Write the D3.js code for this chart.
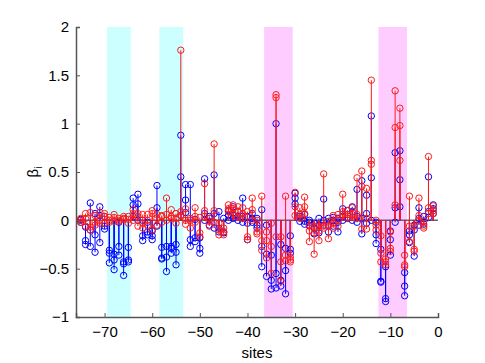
<!DOCTYPE html>
<html>
<head>
<meta charset="utf-8">
<script src="https://cdn.jsdelivr.net/npm/d3@7"></script>
<style>
  body { margin: 0; background: #fff; }
  text { font-family: "Liberation Sans", Arial, sans-serif; }
</style>
</head>
<body>
<div id="chart"></div>
<script>
// sites along the sequence
const sites = [-75, -74, -73, -72, -71, -70, -69, -68, -67, -66, -65, -64, -63, -62, -61,
  -60, -59, -58, -57, -56, -55, -54, -53, -52, -51, -50, -49, -48, -47, -46,
  -45, -44, -43, -42, -41, -40, -39, -38, -37, -36, -35, -34, -33, -32, -31,
  -30, -29, -28, -27, -26, -25, -24, -23, -22, -21, -20, -19, -18, -17, -16,
  -15, -14, -13, -12, -11, -10, -9, -8, -7, -6, -5, -4, -3, -2, -1];

// blue series (three runs)
const blueA = [0.01, -0.21, 0.18, 0.07, 0.14, 0.04, -0.31, -0.35, -0.27, -0.43, -0.28, 0.23, 0.27, -0.21, -0.12,
  -0.11, 0.36, -0.28, -0.27, -0.27, -0.25, 0.88, 0.37, 0.37, -0.18, -0.18, 0.43, 0.04, 0.47, 0.09,
  -0.12, 0.10, 0.14, 0.09, 0.23, -0.03, 0.02, -0.05, 0.11, -0.05, -0.36, 1.00, -0.25, -0.29, -0.16,
  0.28, 0.06, 0.06, -0.02, -0.03, 0.02, 0.22, 0.02, 0.00, -0.12, 0.12, 0.10, 0.14, 0.32, 0.41,
  0.26, 1.08, -0.15, -0.30, -0.48, -0.11, 0.70, 0.72, -0.54, -0.11, -0.05, 0.13, 0.04, 0.45, 0.16];
const blueB = [-0.02, -0.25, -0.27, -0.15, -0.23, -0.06, -0.34, -0.41, -0.36, -0.45, -0.41, 0.16, 0.17, -0.16, -0.15,
  -0.16, 0.13, -0.39, -0.38, -0.29, -0.33, 0.45, 0.21, -0.27, -0.22, -0.29, 0.07, 0.02, 0.07, -0.08,
  -0.13, 0.00, 0.05, 0.04, 0.04, -0.20, -0.02, 0.02, -0.27, -0.35, -0.62, -0.55, -0.62, -0.52, -0.34,
  0.23, 0.04, -0.01, -0.05, -0.08, -0.13, 0.00, -0.12, -0.06, 0.02, 0.04, 0.06, 0.09, 0.04, 0.02,
  0.07, 0.44, -0.24, -0.63, -0.81, -0.20, 0.13, 0.42, -0.68, -0.15, -0.10, -0.05, -0.01, 0.09, 0.12];
const blueC = [0.00, -0.07, -0.10, -0.33, 0.05, -0.09, -0.44, -0.51, -0.02, -0.57, -0.43, 0.04, 0.00, 0.00, -0.02,
  -0.20, -0.06, -0.40, -0.53, -0.34, -0.46, 0.05, 0.08, -0.20, 0.01, -0.34, 0.00, -0.05, -0.08, -0.12,
  0.02, 0.05, 0.02, 0.00, -0.02, 0.04, 0.07, -0.08, -0.48, -0.58, -0.71, -0.70, -0.68, -0.76, -0.30,
  0.17, -0.01, -0.04, 0.00, -0.14, -0.05, -0.05, -0.05, 0.03, -0.02, 0.00, 0.02, 0.00, -0.02, -0.14,
  -0.03, 0.00, -0.02, -0.64, -0.84, -0.36, -0.02, 0.14, -0.78, -0.23, -0.37, 0.02, -0.04, 0.03, 0.07];

// red series (three runs)
const redA = [0.00, 0.07, 0.08, 0.05, 0.08, 0.07, 0.00, 0.06, 0.00, 0.04, 0.04, 0.11, 0.07, 0.06, 0.06,
  0.10, 0.06, 0.05, 0.23, 0.11, 0.07, 1.76, 0.12, 0.02, 0.13, -0.13, 0.38, -0.01, 0.79, -0.03,
  -0.12, 0.16, 0.16, 0.14, 0.13, 0.09, 0.23, -0.12, 0.25, -0.12, -0.03, 1.30, -0.17, 0.25, -0.38,
  0.29, 0.13, 0.24, -0.06, -0.06, -0.06, 0.48, -0.01, -0.03, 0.06, 0.27, 0.10, 0.13, 0.44, 0.51,
  0.33, 1.45, -0.05, -0.16, -0.43, -0.12, 1.34, 1.16, -0.36, 0.25, -0.06, 0.23, -0.01, 0.66, 0.15];
const redB = [-0.02, 0.02, -0.07, -0.05, 0.00, 0.04, -0.02, -0.01, 0.02, 0.01, 0.01, 0.07, 0.04, -0.03, 0.00,
  0.07, -0.05, 0.04, 0.06, 0.04, 0.02, 0.09, 0.00, -0.08, 0.04, -0.17, 0.10, -0.06, 0.10, -0.10,
  -0.15, 0.12, 0.12, 0.09, 0.07, -0.17, 0.11, -0.14, -0.21, -0.21, -0.27, 1.27, -0.43, -0.36, -0.41,
  0.14, 0.06, 0.14, -0.11, -0.13, -0.11, -0.06, -0.06, -0.08, 0.00, 0.09, 0.06, 0.06, 0.06, 0.35,
  -0.09, 0.62, -0.10, -0.34, -0.46, -0.29, 0.96, 0.98, -0.46, -0.06, -0.30, 0.05, -0.06, 0.13, 0.10];
const redC = [0.02, -0.06, -0.10, -0.02, -0.03, -0.03, 0.03, 0.03, -0.01, 0.02, -0.03, 0.00, -0.06, -0.08, -0.05,
  -0.10, 0.02, -0.02, 0.00, 0.02, -0.03, 0.05, -0.04, 0.00, -0.02, 0.03, 0.04, 0.02, -0.02, -0.15,
  -0.08, 0.09, 0.07, 0.03, 0.02, -0.20, 0.00, 0.00, -0.31, -0.39, -0.55, -0.17, -0.63, -0.42, -0.43,
  0.05, 0.02, 0.07, -0.22, -0.35, -0.21, -0.08, -0.19, 0.05, -0.06, 0.06, 0.02, 0.03, 0.02, -0.09,
  0.02, 0.58, 0.00, -0.43, -0.40, -0.32, 0.16, 0.62, -0.48, -0.22, -0.32, 0.00, -0.08, 0.07, 0.07];

// highlighted windows
const cyanBands = [[-69.5, -64.5], [-58.5, -53.5]];
const pinkBands = [[-36.5, -30.5], [-12.5, -6.5]];

const xTicks = [-70, -60, -50, -40, -30, -20, -10, 0];
const yTicks = [-1, -0.5, 0, 0.5, 1, 1.5, 2];

const width = 485;
const height = 363;

const svg = d3.select("#chart")
  .append("svg")
  .attr("width", width)
  .attr("height", height);

const x = d3.scaleLinear()
  .domain([-76, 0])
  .range([76, 438]);

const y = d3.scaleLinear()
  .domain([-1, 2])
  .range([317, 27]);

// shaded bands
function drawBands(bands, colour) {
  svg.selectAll(null)
    .data(bands)
    .enter()
    .append("rect")
    .attr("x", d => x(d[0]))
    .attr("width", d => x(d[1]) - x(d[0]))
    .attr("y", y(2))
    .attr("height", y(-1) - y(2))
    .style("fill", colour);
}
drawBands(cyanBands, "#ccffff");
drawBands(pinkBands, "#ffccff");

// baseline
svg.append("line")
  .attr("x1", x(-76))
  .attr("x2", x(0))
  .attr("y1", y(0))
  .attr("y2", y(0))
  .style("stroke", "#666")
  .style("stroke-width", 1.5);

// stems
function drawStems(values, colour) {
  const pts = sites.map((s, i) => ({ site: s, value: values[i] }));
  const g = svg.append("g");
  g.selectAll("line")
    .data(pts)
    .enter()
    .append("line")
    .attr("x1", d => x(d.site))
    .attr("x2", d => x(d.site))
    .attr("y1", y(0))
    .attr("y2", d => y(d.value))
    .style("stroke", colour)
    .style("stroke-width", 1);
  g.selectAll("circle")
    .data(pts)
    .enter()
    .append("circle")
    .attr("cx", d => x(d.site))
    .attr("cy", d => y(d.value))
    .attr("r", 3.2)
    .style("fill", "none")
    .style("stroke", colour)
    .style("stroke-width", 1);
}
[blueA, blueB, blueC].forEach(v => drawStems(v, "#0000ff"));
[redA, redB, redC].forEach(v => drawStems(v, "#ff1a1a"));

// axes (ticks inside, MATLAB style)
const fmt = d => (d < 0 ? "\u2212" + Math.abs(d) : String(d));

const xAxis = svg.append("g")
  .attr("transform", `translate(0, ${y(-1)})`)
  .call(d3.axisBottom(x).tickValues(xTicks).tickSize(-4).tickPadding(9).tickFormat(fmt));

const yAxis = svg.append("g")
  .attr("transform", `translate(${x(-76)}, 0)`)
  .call(d3.axisLeft(y).tickValues(yTicks).tickSize(-4).tickPadding(7).tickFormat(fmt));

[xAxis, yAxis].forEach(a => {
  a.select(".domain").style("stroke", "#555").style("stroke-width", 1.5);
  a.selectAll(".tick line").style("stroke", "#555");
  a.selectAll("text")
    .style("font-family", "Liberation Sans, Arial, sans-serif")
    .style("font-size", "15px")
    .style("fill", "#000");
});

// labels
svg.append("text")
  .attr("x", (x(-76) + x(0)) / 2)
  .attr("y", 358)
  .attr("text-anchor", "middle")
  .style("font-size", "15px")
  .text("sites");

const yLab = svg.append("text")
  .attr("transform", `translate(38, ${(y(2) + y(-1)) / 2}) rotate(-90)`)
  .attr("text-anchor", "middle")
  .style("font-size", "15px");
yLab.append("tspan").text("\u03b2");
yLab.append("tspan")
  .attr("dy", 4)
  .style("font-size", "10px")
  .text("i");
</script>
</body>
</html>
